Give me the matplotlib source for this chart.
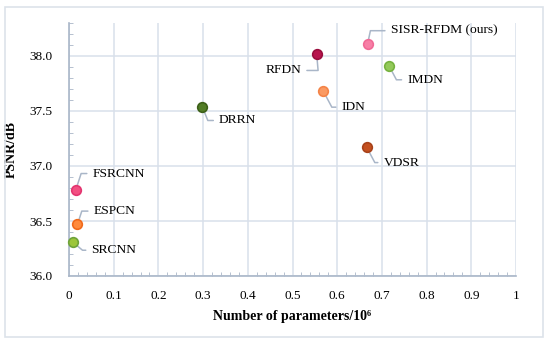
import matplotlib.pyplot as plt
from matplotlib.patches import Rectangle
from matplotlib.ticker import MultipleLocator, FuncFormatter

plt.rcParams['font.family'] = ['Liberation Serif', 'DejaVu Serif']

models = ['SRCNN', 'ESPCN', 'FSRCNN', 'DRRN', 'RFDN', 'SISR-RFDM (ours)', 'IMDN', 'IDN', 'VDSR']
params = [0.008, 0.019, 0.015, 0.298, 0.554, 0.668, 0.716, 0.569, 0.666]
psnr = [36.31, 36.47, 36.78, 37.54, 38.02, 38.11, 37.91, 37.68, 37.17]

fills = ['#9cc63a', '#ff8a3c', '#f24f82', '#527d26', '#b8134d', '#f77fa6', '#93c95a', '#fa9a63', '#c4501f']
edges = ['#6fa33a', '#f06a1c', '#e33570', '#3d6019', '#9a0e3e', '#f06a96', '#76b240', '#f48448', '#a8421a']
# label offsets (points), alignment and leader angle
offsets = [(13.5, -6), (11.5, 9.5), (12, 12), (12, -10), (-11, -12), (16.5, 9.5), (13, -10), (13, -11.5), (12, -11)]
aligns = ['left', 'left', 'left', 'left', 'right', 'left', 'left', 'left', 'left']
angles = [-40, 72, 72, -68, 95, 78, -62, -62, -62]

fig = plt.figure(figsize=(5.5, 3.45), dpi=100)
fig.patches.append(Rectangle((5 / 550, 8 / 345), 538 / 550, 330 / 345, transform=fig.transFigure,
                             fill=False, edgecolor='#dde3ea', lw=1.2))
ax = fig.add_axes([69 / 550, 1 - 276 / 345, 447 / 550, 253 / 345])

ax.set_xlim(0, 1)
ax.set_ylim(36.0, 38.3)
ax.xaxis.set_major_locator(MultipleLocator(0.1))
ax.xaxis.set_minor_locator(MultipleLocator(0.02))
ax.yaxis.set_major_locator(MultipleLocator(0.5))
ax.yaxis.set_minor_locator(MultipleLocator(0.1))
ax.xaxis.set_major_formatter(FuncFormatter(lambda v, p: '%g' % round(v, 1)))
ax.yaxis.set_major_formatter(plt.FormatStrFormatter('%.1f'))
ax.grid(True, which='major', color='#d8e0eb', lw=1.1)
ax.set_axisbelow(True)
for s in ['top', 'right']:
    ax.spines[s].set_visible(False)
for s in ['left', 'bottom']:
    ax.spines[s].set_color('#a9b6c8')
    ax.spines[s].set_linewidth(1.2)
ax.tick_params(which='major', length=0, labelsize=9.5, pad=10)
ax.tick_params(which='minor', direction='in', length=3, color='#a9b6c8')
ax.tick_params(axis='y', which='major', pad=12)

for i in range(len(models)):
    ax.annotate(models[i], (params[i], psnr[i]), xytext=offsets[i], textcoords='offset points',
                ha=aligns[i], va='center', fontsize=9.7,
                arrowprops=dict(arrowstyle='-', color='#a9b6c8', lw=1.1, shrinkA=2, shrinkB=0,
                                relpos=(0 if aligns[i] == 'left' else 1, 0.5),
                                connectionstyle='angle,angleA=0,angleB=%d,rad=0' % angles[i]),
                zorder=2)
    ax.scatter(params[i], psnr[i], s=48, color=fills[i], edgecolor=edges[i], linewidth=1.2,
               zorder=3, clip_on=False)

ax.set_xlabel('Number of parameters/10\u2076', fontsize=10, fontweight='bold', labelpad=6)
ax.set_ylabel('PSNR/dB', fontsize=10, fontweight='bold', labelpad=8)

fig.savefig('out.png', dpi=100)
